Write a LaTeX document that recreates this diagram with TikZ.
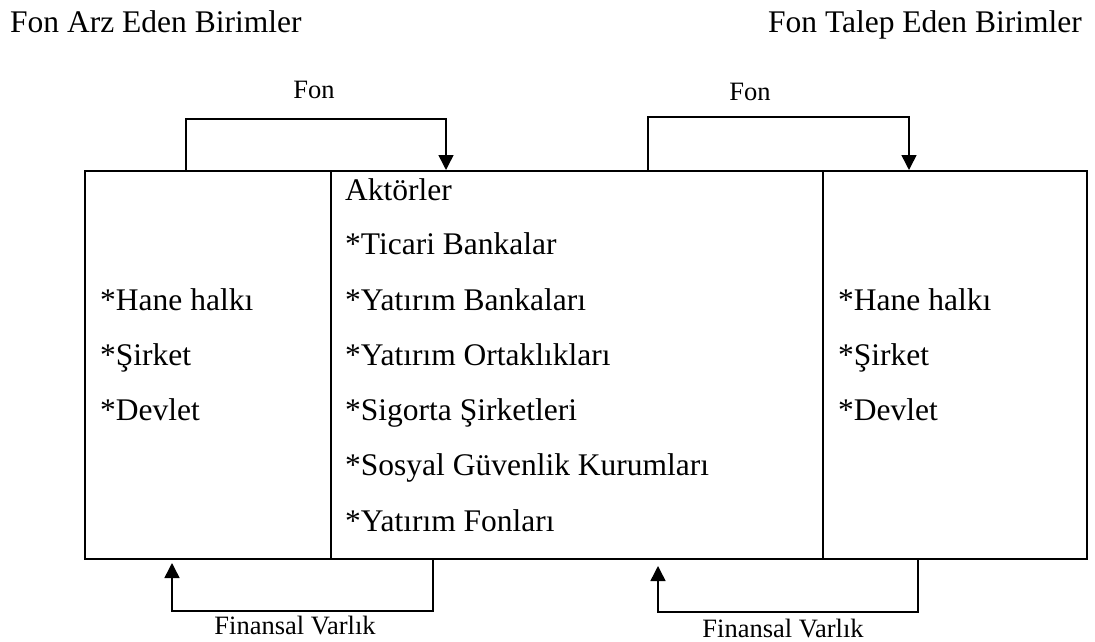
\documentclass[tikz,border=0pt]{standalone}
\usepackage{fontspec}
\setmainfont{Liberation Serif}
\usetikzlibrary{arrows.meta}
\begin{document}
\begin{tikzpicture}[x=1pt,y=-1pt,
  col/.style={draw,line width=1.8pt,minimum height=388pt,anchor=north west,inner sep=0pt},
  big/.style={font=\fontsize{31.5}{36}\selectfont,inner sep=0pt,anchor=base west},
  lab/.style={font=\fontsize{26.5}{30}\selectfont,inner sep=0pt,anchor=base},
  flow/.style={line width=1.5pt,-{Triangle[width=15pt,length=15pt]}}]
\useasboundingbox (0,0) rectangle (1095,642);
% headers
\node[big] (hl) at (10,33) {Fon Arz Eden Birimler};
\node[big,anchor=base east] (hr) at (1082,33) {Fon Talep Eden Birimler};
% columns
\node[col,minimum width=246pt] (L) at (84,170) {};
\node[col,minimum width=492pt] (C) at (330,170) {};
\node[col,minimum width=264pt] (R) at (822,170) {};
% left column
\node[big] (l1) at (100,310) {*Hane halkı};
\node[big] (l2) at (100,365) {*Şirket};
\node[big] (l3) at (100,420) {*Devlet};
% centre column
\node[big] (c0) at (345,200) {Aktörler};
\node[big] (c1) at (345,254) {*Ticari Bankalar};
\node[big] (c2) at (345,310) {*Yatırım Bankaları};
\node[big] (c3) at (345,365) {*Yatırım Ortaklıkları};
\node[big] (c4) at (345,420) {*Sigorta Şirketleri};
\node[big] (c5) at (345,475) {*Sosyal Güvenlik Kurumları};
\node[big] (c6) at (345,531) {*Yatırım Fonları};
% right column
\node[big] (r1) at (838,310) {*Hane halkı};
\node[big] (r2) at (838,365) {*Şirket};
\node[big] (r3) at (838,420) {*Devlet};
% flow labels
\node[lab] (fon1) at (314,99) {Fon};
\node[lab] (fon2) at (750,100) {Fon};
\node[lab] (fv1) at (295,634) {Finansal Varlık};
\node[lab] (fv2) at (783,637) {Finansal Varlık};
% connector end points
\coordinate (a1) at (186,170);
\coordinate (b1) at (446,170);
\coordinate (a2) at (648,170);
\coordinate (b2) at (909,170);
\coordinate (d1) at (433,559);
\coordinate (e1) at (172,563);
\coordinate (d2) at (918,559);
\coordinate (e2) at (658,566);
% connectors
\draw[flow] (a1) -- ++(0,-51) -| (b1);
\draw[flow] (a2) -- ++(0,-53) -| (b2);
\draw[flow] (d1) -- ++(0,52) -| (e1);
\draw[flow] (d2) -- ++(0,53) -| (e2);
\end{tikzpicture}
\end{document}
